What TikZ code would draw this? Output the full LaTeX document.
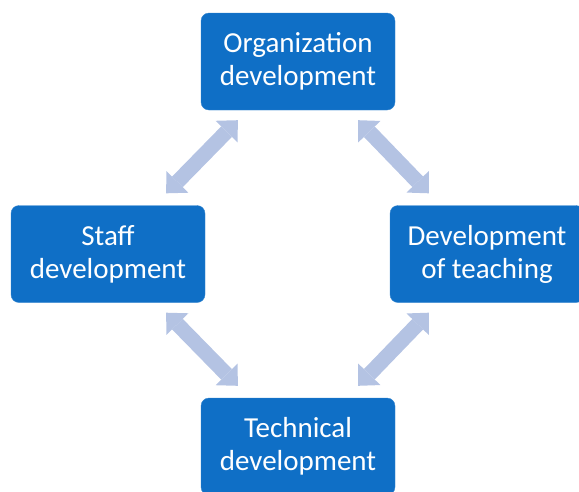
\documentclass[tikz,border=0pt]{standalone}
\usepackage{fontspec}
\setmainfont{Carlito}
\usetikzlibrary{arrows.meta, positioning}
\definecolor{boxblue}{HTML}{0F6FC6}
\definecolor{arrowblue}{HTML}{B4C3E3}

\begin{document}
\begin{tikzpicture}[x=1pt, y=1pt]
        % Estilos para los bloques y las flechas dobles
        \tikzstyle{block} = [fill=boxblue, draw=boxblue!85!white, rounded corners=8pt, minimum width=194pt, minimum height=97pt, inner sep=0pt, text=white, align=center, font=\fontsize{29}{33}\selectfont]
        \tikzstyle{link} = [draw=arrowblue, line width=15pt, {Triangle[width=31pt, length=16pt, line width=0pt]}-{Triangle[width=31pt, length=16pt, line width=0pt]}]

        \useasboundingbox (0,0) rectangle (579,-491);

        % Nodes
        \node [block] at (298,-61.5) (org) {Organization\\development};
        \node [block, on grid, below left=192.5pt and 190pt of org] (staff) {Staff\\development};
        \node [block, on grid, below right=192.5pt and 189pt of org] (teach) {Development\\of teaching};
        \node [block, on grid, below=385pt of org] (tech) {Technical\\development};

        % Lines
        \draw [link] ([shift={(37pt,-10pt)}]org.south west) -- ([shift={(-39pt,12pt)}]staff.north east);
        \draw [link] ([shift={(-37pt,-10pt)}]org.south east) -- ([shift={(39pt,12pt)}]teach.north west);
        \draw [link] ([shift={(-39pt,-10pt)}]staff.south east) -- ([shift={(37pt,12pt)}]tech.north west);
        \draw [link] ([shift={(39pt,-10pt)}]teach.south west) -- ([shift={(-37pt,12pt)}]tech.north east);

\end{tikzpicture}
\end{document}
